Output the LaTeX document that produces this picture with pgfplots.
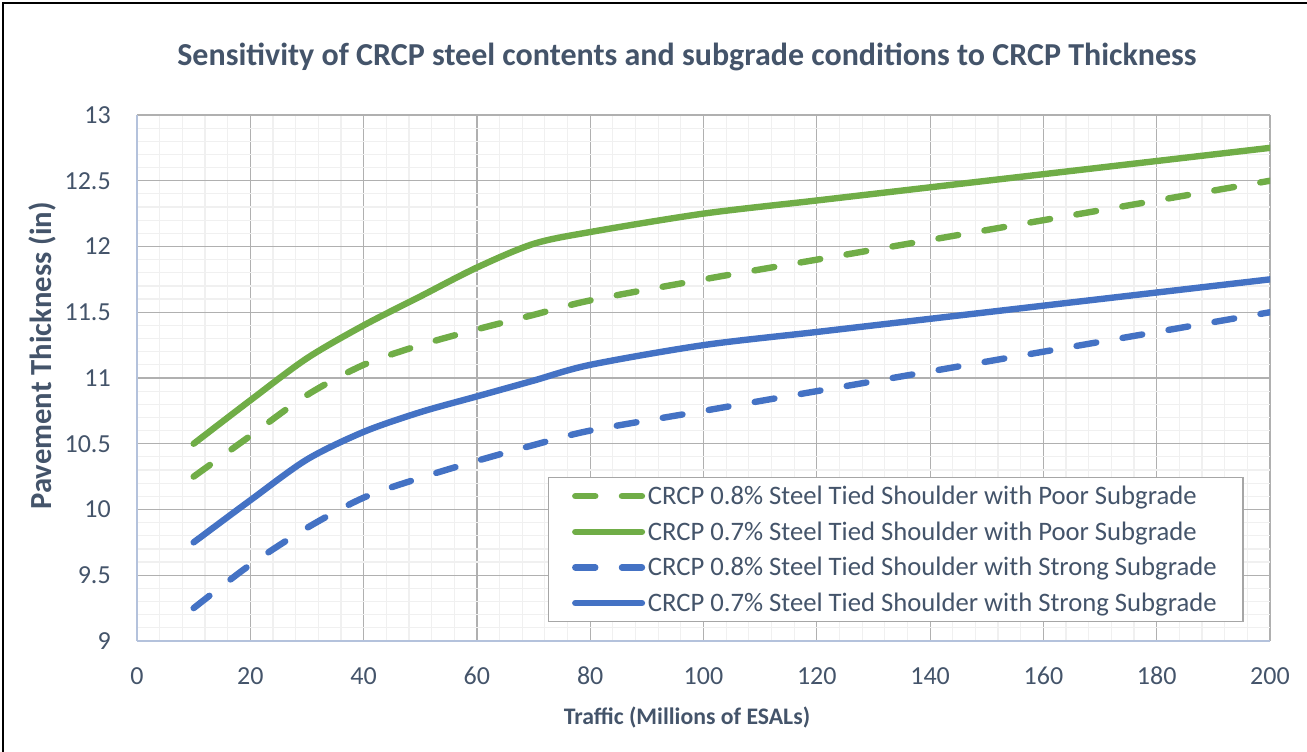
\documentclass[border=0pt]{standalone}
\usepackage{pgfplots}
\pgfplotsset{compat=1.18}
\usepackage{fontspec}
\setmainfont{Carlito}
\definecolor{txt}{HTML}{44546A}
\definecolor{cgreen}{HTML}{70AD47}
\definecolor{cblue}{HTML}{4472C4}
\definecolor{majgrid}{HTML}{B0B0B0}
\definecolor{mingrid}{HTML}{F0F0F0}
\definecolor{axcol}{HTML}{B4C2DC}
\definecolor{legbord}{HTML}{A6A6A6}
\begin{document}
\begin{tikzpicture}
\useasboundingbox (0,0) rectangle (980.25pt,564pt);
\draw[black,line width=1.8pt] (2.25pt,0pt) -- (2.25pt,561.75pt) -- (980.25pt,561.75pt);
\begin{axis}[
  at={(102.75pt,83.25pt)}, anchor=south west,
  scale only axis, width=849.75pt, height=394.5pt,
  xmin=0, xmax=200, ymin=9, ymax=13,
  xtick={0,20,...,200}, ytick={9,9.5,...,13},
  minor x tick num=4, minor y tick num=4,
  grid=both,
  major grid style={majgrid, line width=0.9pt},
  minor grid style={mingrid, line width=0.9pt},
  major tick length=0pt, minor tick length=0pt,
  axis x line*=bottom, axis y line*=left,
  axis line style={axcol, line width=1.1pt, -},
  tick label style={font=\fontsize{19.5}{22}\selectfont, text=txt},
  yticklabel style={anchor=east, inner sep=0pt, xshift=-19.5pt,
    /pgf/number format/.cd, fixed, precision=1},
  xticklabel style={anchor=center, inner sep=0pt, yshift=-26.25pt},
  /pgf/number format/assume math mode=true,
  title={Sensitivity of CRCP steel contents and subgrade conditions to CRCP Thickness},
  title style={at={(axis description cs:0.4854,1.0798)}, anchor=base,
    font=\bfseries\fontsize{24}{28}\selectfont, text=txt},
  xlabel={Traffic (Millions of ESALs)},
  xlabel style={at={(axis description cs:0.4854,-0.1445)}, anchor=center,
    font=\bfseries\fontsize{17.8}{20}\selectfont, text=txt},
  ylabel={Pavement Thickness (in)},
  ylabel style={at={(axis description cs:-0.0838,0.542)}, anchor=center, rotate=0,
    font=\bfseries\fontsize{23}{26}\selectfont, text=txt},
  legend style={at={(axis description cs:0.3626,0.0362)}, anchor=south west,
    draw=legbord, line width=0.9pt, fill=white,
    font=\fontsize{20}{24}\selectfont, text=txt,
    inner xsep=17.75pt, inner ysep=4pt, row sep=7.35pt,
    nodes={inner sep=2pt}},
  legend cell align=left,
  legend image code/.code={\draw[#1] (0pt,0pt) -- (50pt,0pt);},
  every axis plot/.append style={line width=4.8pt, line cap=round, line join=round},
]
\addplot[cgreen, dash pattern=on 15pt off 20pt, smooth, tension=0.5] coordinates {
(10,10.25) (20,10.56) (30,10.87) (40,11.1) (50,11.25) (60,11.37) (70,11.48) (80,11.59)
(100,11.75) (120,11.9) (140,12.05) (160,12.2) (180,12.35) (200,12.5)};
\addlegendentry{CRCP 0.8\% Steel Tied Shoulder with Poor Subgrade}
\addplot[cgreen, smooth, tension=0.5] coordinates {
(10,10.5) (20,10.83) (30,11.15) (40,11.4) (50,11.62) (60,11.84) (70,12.02) (80,12.11)
(100,12.25) (120,12.35) (140,12.45) (160,12.55) (180,12.65) (200,12.75)};
\addlegendentry{CRCP 0.7\% Steel Tied Shoulder with Poor Subgrade}
\addplot[cblue, dash pattern=on 15pt off 20pt, smooth, tension=0.5] coordinates {
(10,9.25) (20,9.58) (30,9.86) (40,10.09) (50,10.24) (60,10.37) (70,10.49) (80,10.6)
(100,10.75) (120,10.9) (140,11.05) (160,11.2) (180,11.35) (200,11.5)};
\addlegendentry{CRCP 0.8\% Steel Tied Shoulder with Strong Subgrade}
\addplot[cblue, smooth, tension=0.5] coordinates {
(10,9.75) (20,10.07) (30,10.38) (40,10.59) (50,10.74) (60,10.86) (70,10.98) (80,11.1)
(100,11.25) (120,11.35) (140,11.45) (160,11.55) (180,11.65) (200,11.75)};
\addlegendentry{CRCP 0.7\% Steel Tied Shoulder with Strong Subgrade}
\end{axis}
\end{tikzpicture}
\end{document}
